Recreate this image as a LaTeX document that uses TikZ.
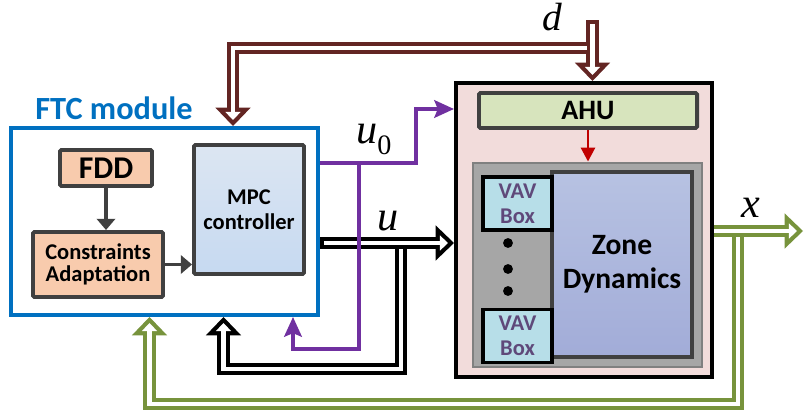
\documentclass[tikz,border=0pt]{standalone}
\usepackage{fontspec}
\setmainfont{Carlito}
\newfontfamily\sigfont{Liberation Serif}
\usetikzlibrary{arrows.meta,positioning}
\definecolor{ftcblue}{HTML}{0070C0}
\definecolor{dbrown}{HTML}{632523}
\definecolor{xgreen}{HTML}{77933C}
\definecolor{upurple}{HTML}{7030A0}
\definecolor{dgray}{HTML}{404040}
\definecolor{peach}{HTML}{F8CBAD}
\definecolor{mpctop}{HTML}{DCE6F2}
\definecolor{mpcbot}{HTML}{C6D9F1}
\definecolor{plantpink}{HTML}{F2DCDB}
\definecolor{ahugreen}{HTML}{D7E4BD}
\definecolor{vavblue}{HTML}{B7DEE8}
\definecolor{vavtext}{HTML}{5F497A}
\definecolor{zonetop}{HTML}{B7C2E2}
\definecolor{zonebot}{HTML}{A2ACD8}
\definecolor{ahured}{HTML}{C00000}

\begin{document}
\begin{tikzpicture}[
  x=0.025cm, y=-0.025cm,
  box/.style={draw=dgray, line width=2.8pt, rounded corners=1pt, align=center, inner sep=0pt,
    font=\bfseries\fontsize{16}{18}\selectfont},
  vav/.style={draw=black, line width=2.2pt, fill=vavblue, align=center, inner sep=0pt,
    minimum width=1.725cm, minimum height=1.325cm, text=vavtext,
    font=\bfseries\fontsize{16}{18}\selectfont},
  sig/.style={inner sep=0pt, anchor=base west, font=\sigfont\itshape\fontsize{30}{32}\selectfont},
  dbl/.style={line width=3pt, white, shorten >=4.3pt,
    -{Triangle[length=5.7pt,width=10.9pt,line width=0pt]},
    preaction={draw=#1, line width=9pt, shorten >=0pt, shorten <=0pt,
      -{Triangle[length=13pt,width=25pt,line width=0pt,color=#1]}}},
  closed/.style={shorten <=3pt},
  garr/.style={-{Triangle[length=8pt,width=13pt]}, line width=2.8pt, dgray},
  parr/.style={-{Stealth[length=14pt,width=12.5pt,inset=2.5pt]}, line width=2.6pt, upurple},
  rarr/.style={-{Triangle[length=10pt,width=10pt]}, line width=2pt, ahured}
]
\useasboundingbox (0,0) rectangle (804,414);

% plant side
\node[draw=black, line width=2.8pt, fill=plantpink, minimum width=6.4cm, minimum height=7.35cm] (plant) at (584,230) {};
\node[box, fill=ahugreen, minimum width=5.45cm, minimum height=0.875cm, font=\bfseries\fontsize{20}{22}\selectfont] (ahu) at (588,110.5) {AHU};
\node[draw=black!50, line width=2pt, fill=black!35, minimum width=5.725cm, minimum height=5.1cm] (zgroup) at (587.5,265) {};
\node[draw=dgray, line width=2.2pt, top color=zonetop, bottom color=zonebot, minimum width=3.5cm, minimum height=4.625cm,
  align=center, font=\bfseries\fontsize{21}{24}\selectfont] (zone) at (622,264.5) {Zone\\Dynamics};
\node[vav] (vav1) at (517.5,203.5) {VAV\\Box};
\node[vav, below=1.9cm of vav1] (vav2) {VAV\\Box};
\foreach \y in {243,269,291}
  \fill (508,\y) circle[radius=3.5pt];

% FTC module
\node[draw=ftcblue, line width=2.8pt, minimum width=7.675cm, minimum height=4.675cm] (ftc) at (164.5,221.5) {};
\node[text=ftcblue, font=\bfseries\fontsize{23}{25}\selectfont] (ftclbl) at (114,108) {FTC module};
\node[box, fill=peach, minimum width=2.3cm, minimum height=0.9cm, font=\bfseries\fontsize{22.5}{24}\selectfont] (fdd) at (106,168) {FDD};
\node[box, fill=peach, minimum width=3.25cm, minimum height=1.625cm, font=\bfseries\fontsize{16}{15.5}\selectfont] (cadapt) at (98,264.5) {Constraints\\Adaptation};
\node[box, top color=mpctop, bottom color=mpcbot, minimum width=2.75cm, minimum height=3.225cm] (mpc) at (249,209.5) {MPC\\controller};

% signal labels
\node[sig, font=\sigfont\itshape\fontsize{28}{30}\selectfont] (dlbl) at (542,30) {d};
\node[sig] (u0lbl) at (356,143) {u\raisebox{-0.28em}{\upshape\fontsize{20}{20}\selectfont 0}};
\node[sig] (ulbl) at (377,230) {u};
\node[sig] (xlbl) at (741,217) {x};

% junction points
\coordinate (dsrc) at (592.5,20);
\coordinate (dtee) at (586.6,48);
\coordinate (dfb) at (233,48);
\coordinate (uout) at (318,243);
\coordinate (utee) at (401,249.2);
\coordinate (ufb) at (223.5,369);
\coordinate (xout) at (803,231);
\coordinate (xtee) at (738,237.2);
\coordinate (xfb) at (149.5,404);
\coordinate (u0a) at (318,163);
\coordinate (u0b) at (416,109);
\coordinate (u0tee) at (359,163);
\coordinate (u0fb) at (293,349);

% u
\draw[dbl=black, closed] (ftc.east |- uout) -- (plant.west |- uout);
\draw[dbl=black] (utee) |- (ufb) -- (ufb |- ftc.south);
% x
\draw[dbl=xgreen] (plant.east |- xout) -- (xout);
\draw[dbl=xgreen] (xtee) |- (xfb) -- (xfb |- ftc.south);
% d
\draw[dbl=dbrown, closed] (dsrc) -- (dsrc |- plant.north);
\draw[dbl=dbrown] (dtee) -- (dfb) -- (dfb |- ftc.north);
% u0
\draw[parr] (ftc.east |- u0a) -| (u0b) -- (plant.west |- u0b);
\draw[parr] (u0tee) |- (u0fb) -- (u0fb |- ftc.south);

\draw[garr] (fdd.south) -- (fdd.south |- cadapt.north);
\draw[garr] (cadapt.east) -- (cadapt.east -| mpc.west);
\draw[rarr] (ahu.south) -- (ahu.south |- zgroup.north);
\end{tikzpicture}
\end{document}
